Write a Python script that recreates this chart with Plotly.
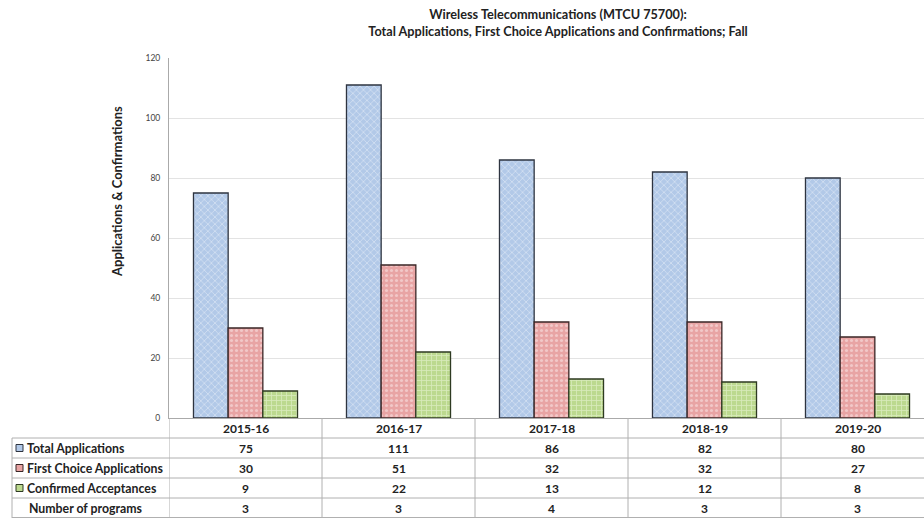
import plotly.graph_objects as go

categories = ["2015-16", "2016-17", "2017-18", "2018-19", "2019-20"]
total_apps = [75, 111, 86, 82, 80]
first_choice = [30, 51, 32, 32, 27]
confirmed = [9, 22, 13, 12, 8]
programs = [3, 3, 4, 3, 3]
series_names = ["Total Applications", "First Choice Applications", "Confirmed Acceptances"]
row_label_programs = "Number of programs"
y_ticks = [0, 20, 40, 60, 80, 100, 120]
y_title = "Applications & Confirmations"

FONT = "Lato"
W, H = 924, 518
PL, PR, PT, PB = 169, 0, 58, 100
plot_w = W - PL - PR
plot_h = H - PT - PB
cat_px = 153.0


def py(pix):
    return (H - PB - pix) / plot_h


def px(pix):
    return (pix - PL) / plot_w


bg_cols = ["#b2c9e8", "#e8a4a4", "#bcd98f"]
fg_cols = ["#d2e0f2", "#f2c8c8", "#d8eabb"]
line_cols = ["#2e3440", "#3a2626", "#2e3a22"]
shapes_pat = ["x", ".", "+"]
series_vals = [total_apps, first_choice, confirmed]

fig = go.Figure()
for name, vals, bg, fg, lc, sh in zip(series_names, series_vals, bg_cols, fg_cols, line_cols, shapes_pat):
    fig.add_trace(go.Bar(
        x=categories, y=vals, name=name,
        marker=dict(
            color=bg,
            line=dict(color=lc, width=1.3),
            pattern=dict(shape=sh, bgcolor=bg, fgcolor=fg, size=5, solidity=0.3, fillmode="replace"),
        ),
        showlegend=False,
    ))

n = len(categories)
x_end = -0.5 + plot_w / cat_px

fig.update_layout(
    width=W, height=H,
    margin=dict(l=PL, r=PR, t=PT, b=PB),
    paper_bgcolor="white", plot_bgcolor="white",
    barmode="group", bargap=0.32, bargroupgap=0,
    font=dict(family=FONT, color="#222"),
    title=dict(
        text="<b>Wireless Telecommunications (MTCU 75700):<br>Total Applications, First Choice Applications and Confirmations; Fall</b>",
        x=558 / W, xanchor="center", y=1 - 19 / H, yanchor="middle",
        font=dict(size=12.7, family=FONT, color="#222"),
    ),
    xaxis=dict(
        range=[-0.5, x_end], showticklabels=False, showgrid=False,
        showline=True, linecolor="#aaaaaa", linewidth=1, ticks="", zeroline=False,
    ),
    yaxis=dict(
        range=[0, 120], tickvals=y_ticks, showgrid=True, gridcolor="#e3e3e3", gridwidth=1,
        showline=True, linecolor="#aaaaaa", linewidth=1, ticks="", zeroline=False,
        tickfont=dict(size=8.5, color="#444", family=FONT), ticklabelstandoff=6,
    ),
)

shapes = []
annos = []
annos.append(dict(x=px(117), xref="paper", y=py(192), yref="paper", text=f"<b>{y_title}</b>",
                  textangle=-90, showarrow=False, font=dict(size=13, family=FONT, color="#222"),
                  xanchor="center", yanchor="middle"))
line_c = "#b0b0b0"
tbl_left = px(12)
tbl_bottom = py(518)
for i in range(n):
    shapes.append(dict(type="line", xref="x", yref="paper", x0=i - 0.5, x1=i - 0.5,
                       y0=0, y1=tbl_bottom, line=dict(color=line_c, width=1)))
shapes.append(dict(type="line", xref="paper", yref="paper", x0=tbl_left, x1=tbl_left,
                   y0=py(438), y1=tbl_bottom, line=dict(color=line_c, width=1)))
for ypix in [438, 458, 478, 498, 517.5]:
    shapes.append(dict(type="line", xref="paper", yref="paper", x0=tbl_left, x1=1,
                       y0=py(ypix), y1=py(ypix), line=dict(color=line_c, width=1)))

for c in categories:
    annos.append(dict(x=c, xref="x", y=py(428.5), yref="paper", text=f"<b>{c}</b>",
                      showarrow=False, font=dict(size=12, family=FONT, color="#222"),
                      xanchor="center", yanchor="middle"))

rows = [(series_names[0], total_apps), (series_names[1], first_choice),
        (series_names[2], confirmed), (row_label_programs, programs)]
row_y = [448, 468, 488, 508]
for r, ((label, vals), ypix) in enumerate(zip(rows, row_y)):
    for c, v in zip(categories, vals):
        annos.append(dict(x=c, xref="x", y=py(ypix), yref="paper", text=f"<b>{v}</b>",
                          showarrow=False, font=dict(size=12, family=FONT, color="#222"),
                          xanchor="center", yanchor="middle"))
    if r < 3:
        shapes.append(dict(type="rect", xref="paper", yref="paper",
                           x0=px(16), x1=px(23), y0=py(ypix + 3.5), y1=py(ypix - 3.5),
                           fillcolor=bg_cols[r], line=dict(color=line_cols[r], width=1)))
        tx = 25
    else:
        tx = 27
    annos.append(dict(x=px(tx), xref="paper", y=py(ypix), yref="paper", text=f"<b>{label}</b>",
                      showarrow=False, font=dict(size=12.3, family=FONT, color="#222"),
                      xanchor="left", yanchor="middle"))

fig.update_layout(shapes=shapes, annotations=annos)
fig.write_html("out.html")
